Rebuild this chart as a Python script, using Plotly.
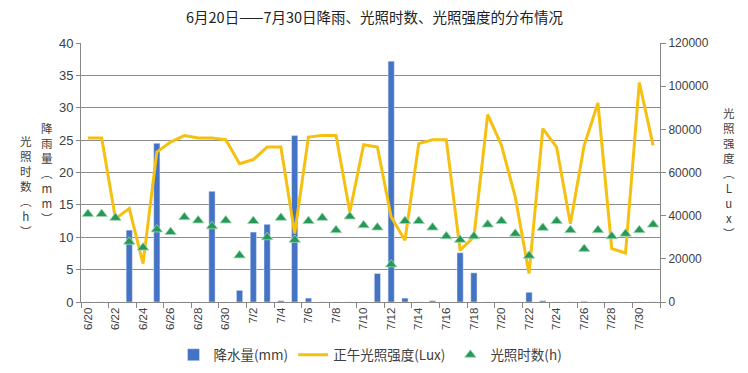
import plotly.graph_objects as go

dates = ["6/20","6/21","6/22","6/23","6/24","6/25","6/26","6/27","6/28","6/29","6/30",
         "7/1","7/2","7/3","7/4","7/5","7/6","7/7","7/8","7/9","7/10",
         "7/11","7/12","7/13","7/14","7/15","7/16","7/17","7/18","7/19","7/20",
         "7/21","7/22","7/23","7/24","7/25","7/26","7/27","7/28","7/29","7/30","7/31"]

rain_mm = [0, 0, 0, 11.1, 0, 24.5, 0, 0, 0, 17.1, 0,
           1.8, 10.8, 12.0, 0.2, 25.7, 0.6, 0, 0, 0, 0,
           4.4, 37.2, 0.6, 0, 0.2, 0, 7.6, 4.5, 0, 0,
           0, 1.5, 0.2, 0, 0, 0.1, 0, 0, 0, 0, 0]

lux_noon = [76000, 76000, 38600, 43300, 17800, 69500, 74100, 77100, 76000, 76000, 75200,
            64100, 66000, 71800, 71800, 31700, 76400, 77200, 77200, 41700, 72900,
            71800, 39400, 28600, 73400, 75200, 75200, 24000, 30100, 86800, 72600,
            48700, 13200, 80300, 71800, 36300, 72600, 92200, 24700, 22700, 101700, 72600]

sun_hours = [13.6, 13.6, 13.0, 9.3, 8.4, 11.2, 10.8, 13.1, 12.6, 11.7, 12.6,
             7.2, 12.5, 10.0, 13.0, 9.6, 12.5, 13.0, 11.1, 13.2, 11.85,
             11.5, 5.8, 12.5, 12.5, 11.5, 10.15, 9.6, 10.15, 11.95, 12.5,
             10.55, 7.15, 11.45, 12.5, 11.1, 8.2, 11.1, 10.15, 10.55, 11.1, 11.95]

title_text = "6月20日——7月30日降雨、光照时数、光照强度的分布情况"
left_title_outer = ["光", "照", "时", "数", "︵", "h", "︶"]
left_title_inner = ["降", "雨", "量", "︵", "m", "m", "︶"]
right_title = ["光", "照", "强", "度", "︵", "L", "u", "x", "︶"]

FONT = "Liberation Sans, Noto Sans CJK SC, sans-serif"
CJK = "Noto Sans CJK SC, sans-serif"
TXT = "#404040"

W, H = 748, 373
L, R, T, B = 81, 88, 43, 71
PW, PH = W - L - R, H - T - B

def px(x):
    return (x - L) / PW

def py(y):
    return (T + PH - y) / PH

fig = go.Figure()
fig.add_trace(go.Bar(x=dates, y=rain_mm, name="降水量(mm)", marker_color="#4472C4",
                     yaxis="y"))
fig.add_trace(go.Scatter(x=dates, y=lux_noon, name="正午光照强度(Lux)", mode="lines",
                         line=dict(color="#F5C010", width=3), yaxis="y2"))
fig.add_trace(go.Scatter(x=dates, y=sun_hours, name="光照时数(h)", mode="markers",
                         marker=dict(symbol="triangle-up", size=10, color="#26995A",
                                     line=dict(color="#9FD9B0", width=0.8)),
                         yaxis="y3"))

def ann(text, x, y, size, color=TXT):
    return dict(text=text, xref="paper", yref="paper", x=px(x), y=py(y),
                xanchor="center", yanchor="middle", showarrow=False,
                font=dict(family=CJK, size=size, color=color))

annotations = [
    ann(title_text, 375, 17, 14.5, "#222"),
    ann("<br>".join(left_title_outer), 26, 186, 11.6),
    ann("<br>".join(left_title_inner), 47, 173, 11.6),
    ann("<br>".join(right_title), 729, 173, 11.5),
]

fig.update_layout(
    width=W, height=H,
    margin=dict(l=L, r=R, t=T, b=B, autoexpand=False),
    paper_bgcolor="white", plot_bgcolor="white",
    font=dict(family=FONT, size=12, color=TXT),
    bargap=0.55,
    showlegend=True,
    legend=dict(orientation="h", x=0.5, xanchor="center", yref="container",
                y=(H - 355) / H, yanchor="middle",
                font=dict(family=CJK, size=13.5, color=TXT), itemwidth=30,
                traceorder="normal"),
    xaxis=dict(type="category", tickangle=-90, dtick=2, tickson="boundaries",
               ticks="outside", ticklen=5, tickcolor="#888", showline=True,
               linecolor="#888", showgrid=False, tickfont=dict(size=11.5, family=FONT),
               range=[-0.5, len(dates) - 0.5]),
    yaxis=dict(range=[0, 40], dtick=5, showgrid=True, gridcolor="#8c8c8c", gridwidth=1,
               showline=True, linecolor="#888", ticks="outside", ticklen=4,
               tickcolor="#888", zeroline=False, tickfont=dict(size=13)),
    yaxis2=dict(range=[0, 120000], dtick=20000, overlaying="y", side="right",
                showgrid=False, showline=True, linecolor="#888", ticks="outside",
                ticklen=5, tickcolor="#888", zeroline=False, tickformat="d",
                tickfont=dict(size=12)),
    yaxis3=dict(range=[0, 40], overlaying="y", visible=False),
    annotations=annotations,
)

fig.write_html("out.html")
